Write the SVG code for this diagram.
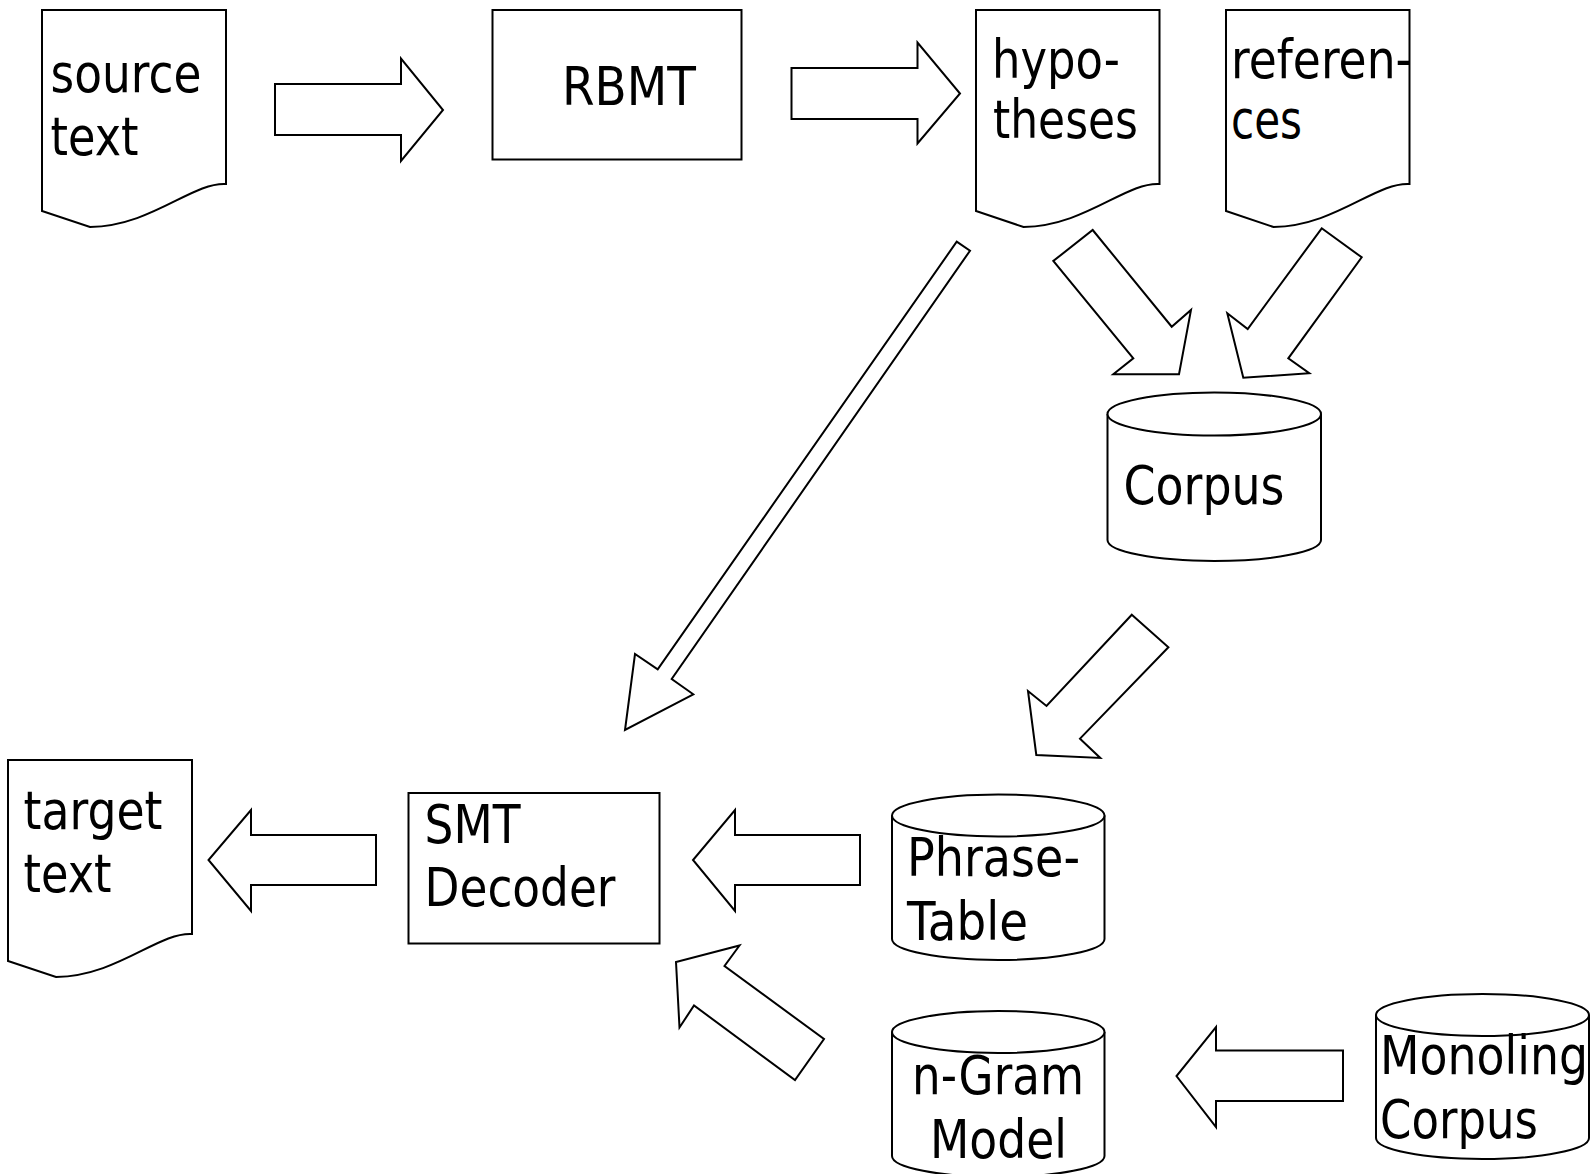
<svg xmlns="http://www.w3.org/2000/svg" width="1593" height="1174" viewBox="0 0 1593 1174">
<style>
.s{fill:#fff;stroke:#000;stroke-width:2;stroke-linejoin:miter}
.t{font-family:"DejaVu Sans","Liberation Sans",sans-serif;font-size:54px;fill:#000}
</style>
<rect width="1593" height="1174" fill="#fff"/>
<g id="connectors">
<polygon class="s" points="275,84 401,84 401,58.5 443,110 401,161 401,135 275,135"/>
<polygon class="s" points="791.5,68 917.5,68 917.5,42.5 960,93.5 917.5,143.5 917.5,119 791.5,119"/>
<polygon class="s" points="1092.7,230 1171.7,326.7 1191,310 1179,374.3 1113.3,374.3 1133.3,358.3 1053.3,261"/>
<polygon class="s" points="1321.7,228.3 1361.7,257.3 1288.3,358.3 1309.3,373.3 1243.3,377.7 1227.3,313.3 1247.7,329"/>
<polygon class="s" points="956.7,241.7 970,250.7 671.7,679 693.3,694.3 625,730 635,654 657.7,669.3"/>
<polygon class="s" points="1131.8,614.7 1168.4,647.2 1080,738.6 1100.3,758 1036.3,755 1028,691 1046.5,706"/>
<polygon class="s" points="376,835 251,835 251,810 208.5,860 251,911 251,885 376,885"/>
<polygon class="s" points="860,835 735,835 735,810 693,860 735,911 735,885 860,885"/>
<polygon class="s" points="739.5,945.5 724.5,966 824,1039 795,1080 694,1005.5 679.5,1027.5 676,962"/>
<polygon class="s" points="1343,1050.5 1216,1050.5 1216,1027 1176.5,1076 1216,1127 1216,1101 1343,1101"/>
</g>
<g id="source-text">
<path class="s" d="M42,10 H226 V184 C192,182 152,226 90,227 L42,211 Z"/>
<text class="t" x="50.5" y="92" textLength="151" lengthAdjust="spacingAndGlyphs">source</text>
<text class="t" x="50.5" y="155" textLength="88" lengthAdjust="spacingAndGlyphs">text</text>
</g>
<g id="rbmt">
<rect class="s" x="492.5" y="10" width="249" height="149.5"/>
<text class="t" x="562" y="105" textLength="134" lengthAdjust="spacingAndGlyphs">RBMT</text>
</g>
<g id="hypotheses">
<path class="s" d="M976,10 H1159.5 V184 C1125.5,182 1085.5,226 1023.5,227 L976,211 Z"/>
<text class="t" x="992" y="78" textLength="128" lengthAdjust="spacingAndGlyphs">hypo-</text>
<text class="t" x="993" y="138" textLength="145" lengthAdjust="spacingAndGlyphs">theses</text>
</g>
<g id="references">
<path class="s" d="M1226,10 H1409.5 V184 C1375.5,182 1335.5,226 1273.5,227 L1226,211 Z"/>
<text class="t" x="1231" y="78" textLength="181" lengthAdjust="spacingAndGlyphs">referen-</text>
<text class="t" x="1231" y="138" textLength="71" lengthAdjust="spacingAndGlyphs">ces</text>
</g>
<g id="corpus">
<path class="s" d="M1107.5,414 V540 A106.75,21 0 0 0 1321,540 V414"/>
<ellipse class="s" cx="1214.25" cy="414" rx="106.75" ry="21.5"/>
<text class="t" x="1123.5" y="504" textLength="161" lengthAdjust="spacingAndGlyphs">Corpus</text>
</g>
<g id="target-text">
<path class="s" d="M8,760 H192 V934 C158,932 118,976 56,977 L8,961 Z"/>
<text class="t" x="23.5" y="829" textLength="139" lengthAdjust="spacingAndGlyphs">target</text>
<text class="t" x="23.5" y="892" textLength="88" lengthAdjust="spacingAndGlyphs">text</text>
</g>
<g id="smt-decoder">
<rect class="s" x="408.5" y="793" width="251" height="150.5"/>
<text class="t" x="424.5" y="843" textLength="96" lengthAdjust="spacingAndGlyphs">SMT</text>
<text class="t" x="424.5" y="906" textLength="191" lengthAdjust="spacingAndGlyphs">Decoder</text>
</g>
<g id="phrase-table">
<path class="s" d="M892,815.5 V939 A106.25,21 0 0 0 1104.5,939 V815.5"/>
<ellipse class="s" cx="998.25" cy="815.5" rx="106.25" ry="21"/>
<text class="t" x="907" y="876" textLength="173" lengthAdjust="spacingAndGlyphs">Phrase-</text>
<text class="t" x="907" y="940" textLength="121" lengthAdjust="spacingAndGlyphs">Table</text>
</g>
<g id="ngram-model">
<path class="s" d="M892,1032 V1156 A106.25,21 0 0 0 1104.5,1156 V1032"/>
<ellipse class="s" cx="998.25" cy="1032" rx="106.25" ry="21"/>
<text class="t" x="912" y="1094" textLength="172" lengthAdjust="spacingAndGlyphs">n-Gram</text>
<text class="t" x="930" y="1158" textLength="137" lengthAdjust="spacingAndGlyphs">Model</text>
</g>
<g id="monoling-corpus">
<path class="s" d="M1376,1015 V1138 A106.5,21 0 0 0 1589,1138 V1015"/>
<ellipse class="s" cx="1482.5" cy="1015" rx="106.5" ry="21"/>
<text class="t" x="1380" y="1074" textLength="208" lengthAdjust="spacingAndGlyphs">Monoling</text>
<text class="t" x="1380" y="1138" textLength="158" lengthAdjust="spacingAndGlyphs">Corpus</text>
</g>
</svg>
